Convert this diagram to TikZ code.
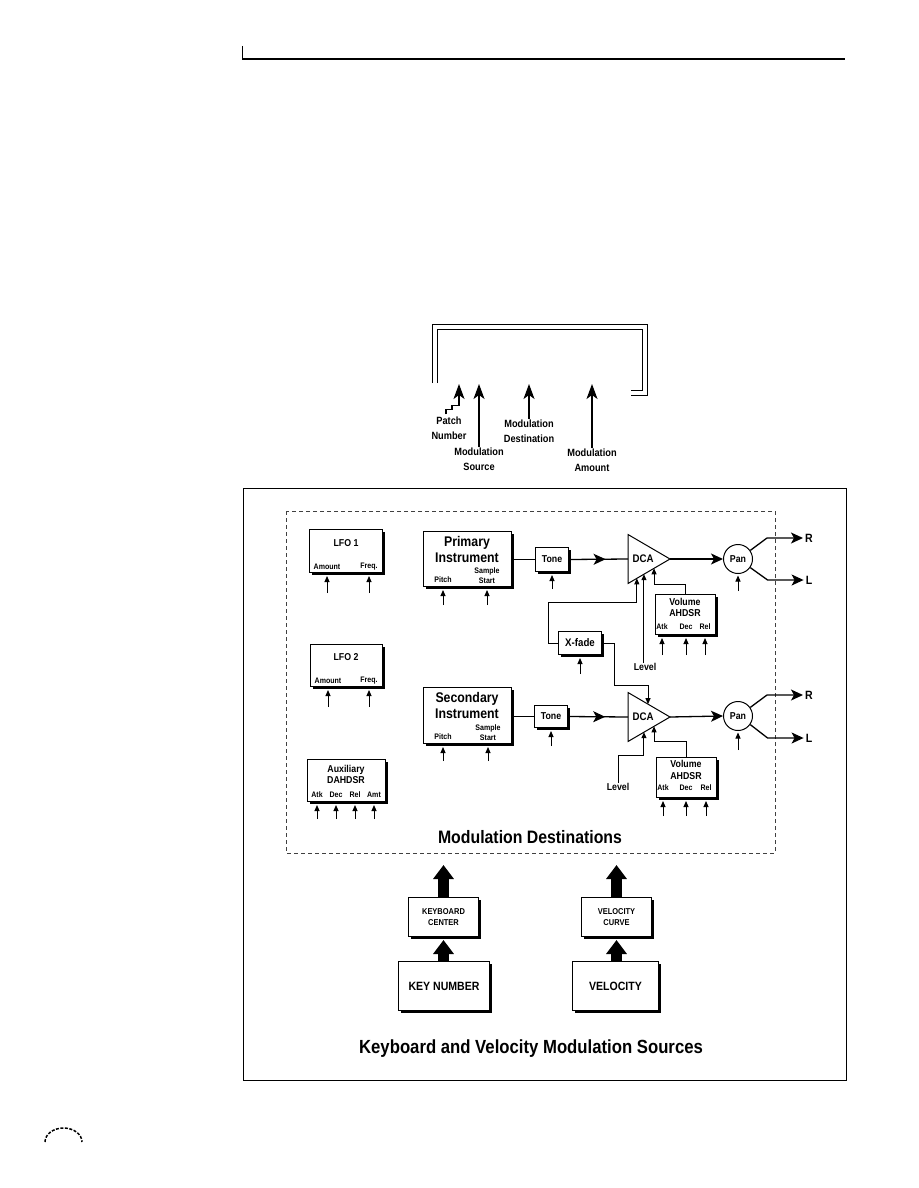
\documentclass[tikz,border=0pt]{standalone}
\usepackage{fontspec}
\setmainfont{Liberation Sans}[FakeStretch=0.88]
\usetikzlibrary{arrows.meta,positioning,calc,shadows,decorations.markings}
\tikzset{
  unitbox/.style={draw,line width=1pt,fill=white,anchor=north west,inner sep=0pt,
    drop shadow={shadow xshift=2.5pt,shadow yshift=-2.5pt,opacity=1,fill=black}},
  panbox/.style={draw,circle,line width=1pt,fill=white,minimum size=29pt,inner sep=0pt,
    font=\bfseries\fontsize{10}{11}\selectfont},
  tinylbl/.style={inner sep=0pt,align=center,font=\bfseries\fontsize{8}{10}\selectfont},
  smalllbl/.style={inner sep=0pt,align=center,font=\bfseries\fontsize{8.5}{11}\selectfont},
  lbl/.style={inner sep=0pt,align=center,font=\bfseries\fontsize{10}{11.5}\selectfont},
  toplbl/.style={inner sep=0pt,align=center,font=\bfseries\fontsize{10.5}{15}\selectfont},
  instlbl/.style={inner sep=0pt,align=center,font=\bfseries\fontsize{14}{16}\selectfont},
  biglbl/.style={inner sep=0pt,align=center,font=\bfseries\fontsize{12}{14}\selectfont},
  dcalbl/.style={inner sep=0pt,font=\bfseries\fontsize{11}{12}\selectfont},
  titlelbl/.style={inner sep=0pt,font=\bfseries\fontsize{#1}{#1}\selectfont},
  wire/.style={line width=1pt},
  inarrow/.style={wire,-{Triangle[length=6pt,width=5pt]}},
  sigarrow/.style={line width=1.3pt,-{Stealth[length=12pt,width=11pt,inset=3pt]}},
  midarrow/.style={line width=1.3pt,postaction={decorate},decoration={markings,
    mark=at position #1 with {\arrow{Stealth[length=12pt,width=11pt,inset=3pt]}}}},
  slotarrow/.style={line width=1.2pt,-{Stealth[length=15pt,width=11pt,inset=4pt]}},
  fatarrow/.style={line width=11pt,-{Triangle[length=14pt,width=20pt]}}
}
% feeder arrow from below into a box: label, box, tail length
\newcommand\feed[3]{\draw[inarrow] ($(#1 |- #2.south)+(0,#3)$) -- ($(#1 |- #2.south)+(0,3)$);}

\begin{document}
\begin{tikzpicture}[x=1pt,y=-1pt]
\useasboundingbox (0,0) rectangle (918,1188);

% page header
\draw[line width=1.3pt] (242,59) -- (845,59);
\draw[line width=0.8pt] (242,46) -- (242,59);

% patch display
\draw[wire] (432,383) |- (647,324) |- (631,395);
\draw[wire] (437,383) |- (642,329) |- (631,390);
\coordinate (slot) at (0,384);
\node[toplbl] (patchlbl) at (449,428) {Patch\\Number};
\node[toplbl] (srclbl) at (479,459) {Modulation\\Source};
\node[toplbl] (dstlbl) at (529,431) {Modulation\\Destination};
\node[toplbl] (amtlbl) at (592,460) {Modulation\\Amount};
\draw[slotarrow] (patchlbl.north) ++(-3,-2) -- ++(0,-5) -- ++(6,0) -- ++(0,-4) -- ++(7,0) coordinate (pbend) -- (pbend |- slot);
\draw[slotarrow] (srclbl.north) -- (srclbl.north |- slot);
\draw[slotarrow] (dstlbl.north) -- (dstlbl.north |- slot);
\draw[slotarrow] (amtlbl.north) -- (amtlbl.north |- slot);

% frames
\draw[wire] (243,488) rectangle (846,1080);
\draw[line width=0.9pt,black!75,dash pattern=on 4pt off 3pt] (286,511) rectangle (775,853);

% LFOs
\node[unitbox,minimum width=73pt,minimum height=43pt] (lfoA) at (309,529) {};
\node[lbl] (lfoA-name) at (346,543) {LFO 1};
\node[tinylbl] (lfoA-amt) at (327,567) {Amount};
\node[tinylbl] (lfoA-frq) at (369,567) {Freq.};
\feed{lfoA-amt}{lfoA}{20} \feed{lfoA-frq}{lfoA}{20}

\node[unitbox,minimum width=72pt,minimum height=42pt] (lfoB) at (310,644) {};
\node[lbl] (lfoB-name) at (346,657) {LFO 2};
\node[tinylbl] (lfoB-amt) at (328,681) {Amount};
\node[tinylbl] (lfoB-frq) at (369,681) {Freq.};
\feed{lfoB-amt}{lfoB}{20} \feed{lfoB-frq}{lfoB}{20}

% auxiliary envelope
\node[unitbox,minimum width=78pt,minimum height=42pt] (auxE) at (307,759) {};
\node[lbl] (auxE-name) at (346,774.5) {Auxiliary\\DAHDSR};
\foreach \lab/\x [count=\i] in {Atk/317,Dec/336,Rel/355,Amt/374} {
  \node[tinylbl] (aux-\i) at (\x,795) {\lab};
  \feed{aux-\i}{auxE}{17}
}

% instruments
\node[unitbox,minimum width=88pt,minimum height=55pt] (priI) at (423,531) {};
\node[instlbl] (priI-name) at (467,549) {Primary\\Instrument};
\node[tinylbl] (priI-pitch) at (443,580) {Pitch};
\node[tinylbl] (priI-start) at (487,576) {Sample\\Start};
\feed{priI-pitch}{priI}{18} \feed{priI-start}{priI}{18}

\node[unitbox,minimum width=88pt,minimum height=56pt] (secI) at (423,687) {};
\node[instlbl] (secI-name) at (467,705.5) {Secondary\\Instrument};
\node[tinylbl] (secI-pitch) at (443,737) {Pitch};
\node[tinylbl] (secI-start) at (488,732.5) {Sample\\Start};
\feed{secI-pitch}{secI}{17} \feed{secI-start}{secI}{17}

% tone filters
\node[unitbox,lbl,minimum width=33pt,minimum height=24pt] (toneA) at (535,547) {Tone};
\node[unitbox,lbl,minimum width=33pt,minimum height=22pt] (toneB) at (534,705) {Tone};
\feed{toneA}{toneA}{17} \feed{toneB}{toneB}{18}

% amplifiers
\draw[wire,fill=white] (628,534.5) coordinate (dcaA-top) -- (670,559) coordinate (dcaA-out)
  -- (628,583.5) coordinate (dcaA-bot) -- cycle;
\node[dcalbl] (dcaA) at (643,559) {DCA};
\coordinate (dcaA-in) at (628,559);
\coordinate (dcaA-xf) at ($(dcaA-bot)!0.21!(dcaA-out)$);
\coordinate (dcaA-lev) at ($(dcaA-bot)!0.38!(dcaA-out)$);
\coordinate (dcaA-env) at ($(dcaA-bot)!0.62!(dcaA-out)$);

\draw[wire,fill=white] (628,692.5) coordinate (dcaB-top) -- (670,717) coordinate (dcaB-out)
  -- (628,741.5) coordinate (dcaB-bot) -- cycle;
\node[dcalbl] (dcaB) at (643,717) {DCA};
\coordinate (dcaB-in) at (628,717);
\coordinate (dcaB-xf) at ($(dcaB-top)!0.476!(dcaB-out)$);
\coordinate (dcaB-lev) at ($(dcaB-bot)!0.38!(dcaB-out)$);
\coordinate (dcaB-env) at ($(dcaB-bot)!0.62!(dcaB-out)$);

% pan and outputs
\node[panbox] (panA) at (738,559) {Pan};
\node[panbox] (panB) at (738,716) {Pan};
\draw[inarrow] ($(panA.south)+(0,17)$) -- ($(panA.south)+(0,1.5)$);
\draw[inarrow] ($(panB.south)+(0,19)$) -- ($(panB.south)+(0,1.5)$);
\node[biglbl] (rA) at (809,538) {R};
\node[biglbl] (lA) at (809,580) {L};
\node[biglbl] (rB) at (809,695) {R};
\node[biglbl] (lB) at (809,738) {L};
\draw[sigarrow,shorten >=2pt] (panA.35) -- ([xshift=-38pt]rA.west) -- (rA.west);
\draw[sigarrow,shorten >=2pt] (panA.-35) -- ([xshift=-38pt]lA.west) -- (lA.west);
\draw[sigarrow,shorten >=2pt] (panB.35) -- ([xshift=-38pt]rB.west) -- (rB.west);
\draw[sigarrow,shorten >=2pt] (panB.-35) -- ([xshift=-38pt]lB.west) -- (lB.west);

% signal chain
\draw[line width=1.3pt] (priI.east |- toneA.west) -- (toneA.west);
\draw[midarrow=0.62] (toneA.east) -- (dcaA-in);
\draw[sigarrow] (dcaA-out) -- (panA.west);
\draw[line width=1.3pt] (secI.east |- toneB.west) -- (toneB.west);
\draw[midarrow=0.62] (toneB.east) -- (dcaB-in);
\draw[sigarrow] (dcaB-out) -- (panB.west);

% volume envelopes
\node[unitbox,minimum width=60pt,minimum height=40pt] (volA) at (655,594) {};
\node[lbl] (volA-name) at (685,607.5) {Volume\\AHDSR};
\node[unitbox,minimum width=60pt,minimum height=40pt] (volB) at (656,757) {};
\node[lbl] (volB-name) at (686,770) {Volume\\AHDSR};
\foreach \lab/\x [count=\i] in {Atk/662,Dec/686,Rel/705} {
  \node[tinylbl] (volA-\i) at (\x,627) {\lab};
  \feed{volA-\i}{volA}{20}
}
\foreach \lab/\x [count=\i] in {Atk/663,Dec/686,Rel/706} {
  \node[tinylbl] (volB-\i) at (\x,788) {\lab};
  \feed{volB-\i}{volB}{18}
}
\draw[inarrow] (volA.north) -- ++(0,-10) -| (dcaA-env);
\draw[inarrow] (volB.north) -- ++(0,-16) -| (dcaB-env);

% level inputs
\node[lbl] (levA) at (645,667) {Level};
\draw[inarrow] (levA.north -| dcaA-lev) -- (dcaA-lev);
\node[lbl] (levB) at (618,787) {Level};
\draw[inarrow] (levB.north) |- (dcaB-lev |- 0,755) -- (dcaB-lev);

% crossfade
\node[unitbox,lbl,font=\bfseries\fontsize{11}{12}\selectfont,minimum width=43pt,minimum height=23pt] (xfade) at (558,631) {X-fade};
\feed{xfade}{xfade}{19}
\draw[inarrow] (xfade.west) -- ++(-10,0) |- (dcaA-xf |- 0,602) -- (dcaA-xf);
\draw[inarrow] (xfade.east) -- ++(12,0) |- (dcaB-xf |- 0,685) -- (dcaB-xf);

\node[titlelbl=18] (destlbl) at (530,837) {Modulation Destinations};

% keyboard and velocity sources
\coordinate (destedge) at (0,865);
\node[unitbox,smalllbl,minimum width=70pt,minimum height=39pt] (kbc) at (408,897) {KEYBOARD\\CENTER};
\node[unitbox,biglbl,minimum width=91pt,minimum height=49pt] (keyn) at (398,961) {KEY NUMBER};
\node[unitbox,smalllbl,minimum width=70pt,minimum height=39pt] (vcur) at (581,897) {VELOCITY\\CURVE};
\node[unitbox,biglbl,minimum width=86pt,minimum height=49pt] (velo) at (572,961) {VELOCITY};
\draw[fatarrow] (kbc.south |- keyn.north) -- ($(kbc.south)+(0,3)$);
\draw[fatarrow] (kbc.north) -- (kbc.north |- destedge);
\draw[fatarrow] (vcur.south |- velo.north) -- ($(vcur.south)+(0,3)$);
\draw[fatarrow] (vcur.north) -- (vcur.north |- destedge);

\node[titlelbl=19] (srcslbl) at (531,1049) {Keyboard and Velocity Modulation Sources};

% page corner mark
\draw[line width=1.5pt,dash pattern=on 3pt off 1.5pt] (45,1142) arc[start angle=180,end angle=0,x radius=18.5pt,y radius=14pt];
\end{tikzpicture}
\end{document}
